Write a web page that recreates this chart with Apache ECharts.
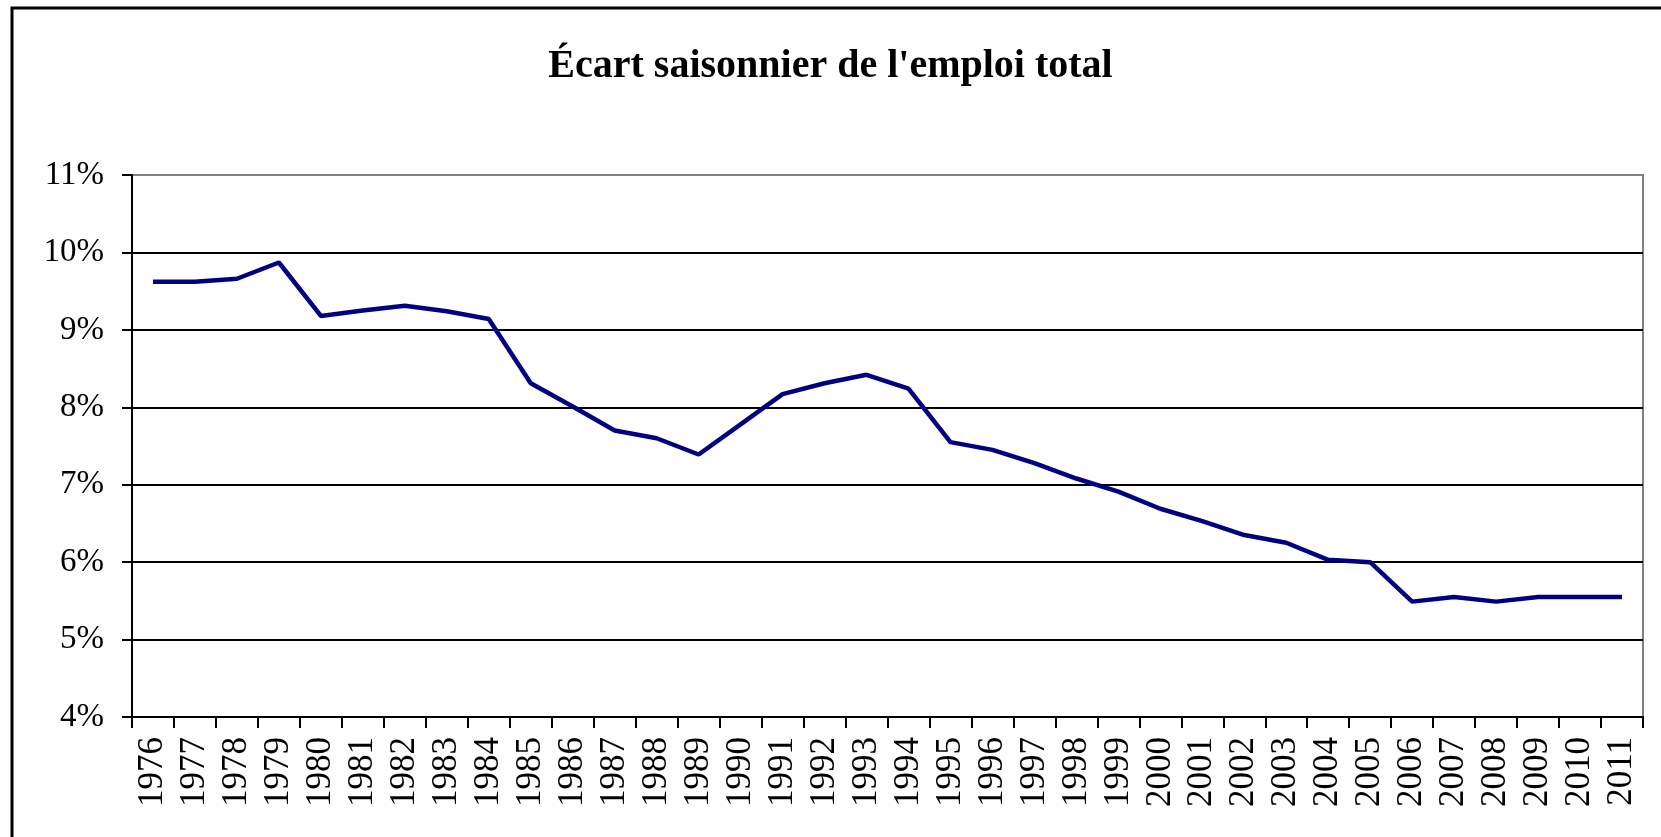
<!DOCTYPE html>
<html>
<head>
<meta charset="utf-8">
<title>Écart saisonnier de l'emploi total</title>
<script src="https://cdn.jsdelivr.net/npm/echarts@6/dist/echarts.min.js"></script>
<style>
  html, body { margin: 0; padding: 0; background: #fff; }
  #chart { width: 1661px; height: 837px; }
</style>
</head>
<body>
<div id="chart"></div>
<script>
// années (catégories)
const years = [
  "1976", "1977", "1978", "1979", "1980", "1981", "1982", "1983", "1984",
  "1985", "1986", "1987", "1988", "1989", "1990", "1991", "1992", "1993",
  "1994", "1995", "1996", "1997", "1998", "1999", "2000", "2001", "2002",
  "2003", "2004", "2005", "2006", "2007", "2008", "2009", "2010", "2011"
];

// écart saisonnier (%)
const ecartSaisonnier = [
  9.62, 9.62, 9.66, 9.87, 9.18, 9.25, 9.31, 9.24, 9.14,
  8.31, 8.01, 7.70, 7.60, 7.39, 7.78, 8.17, 8.31, 8.42,
  8.24, 7.55, 7.45, 7.28, 7.08, 6.91, 6.69, 6.53, 6.35,
  6.25, 6.03, 6.00, 5.49, 5.55, 5.49, 5.55, 5.55, 5.55
];

// graduations de l'axe vertical
const yMin = 4;
const yMax = 11;
const yStep = 1;

const serif = '"Liberation Serif", "Times New Roman", serif';

const chart = echarts.init(document.getElementById("chart"));

chart.setOption({
  animation: false,
  backgroundColor: "#ffffff",
  title: {
    text: "Écart saisonnier de l'emploi total",
    left: "center",
    top: 42,
    textStyle: {
      fontFamily: serif,
      fontSize: 40,
      fontWeight: "bold",
      color: "#000000",
    },
  },
  // cadre extérieur (coupé à droite et en bas comme dans l'original)
  graphic: [
    {
      type: "rect",
      shape: { x: 12, y: 8, width: 1700, height: 900 },
      style: { fill: "none", stroke: "#000000", lineWidth: 3 },
      silent: true,
    },
  ],
  grid: {
    left: 132,
    right: 18,
    top: 175,
    bottom: 120,
    show: true,
    borderColor: "#808080",
    borderWidth: 2,
    backgroundColor: "#ffffff",
  },
  xAxis: {
    type: "category",
    data: years,
    boundaryGap: true,
    axisLine: { lineStyle: { color: "#000000", width: 2 } },
    axisTick: {
      show: true,
      inside: false,
      length: 11,
      alignWithLabel: false,
      lineStyle: { color: "#000000", width: 2 },
    },
    axisLabel: {
      rotate: 90,
      interval: 0,
      margin: 20,
      fontFamily: serif,
      fontSize: 35,
      color: "#000000",
    },
    splitLine: { show: false },
  },
  yAxis: {
    type: "value",
    min: yMin,
    max: yMax,
    interval: yStep,
    axisLine: { show: true, lineStyle: { color: "#000000", width: 2 } },
    axisTick: {
      show: true,
      inside: false,
      length: 10,
      lineStyle: { color: "#000000", width: 2 },
    },
    axisLabel: {
      margin: 28,
      fontFamily: serif,
      fontSize: 33,
      color: "#000000",
      formatter: "{value}%",
    },
    splitLine: {
      show: true,
      showMaxLine: false,
      lineStyle: { color: "#000000", width: 2 },
    },
  },
  series: [
    {
      name: "Écart saisonnier",
      type: "line",
      data: ecartSaisonnier,
      symbol: "none",
      lineStyle: { color: "#000080", width: 4.5 },
      itemStyle: { color: "#000080" },
    },
  ],
});
</script>
</body>
</html>
